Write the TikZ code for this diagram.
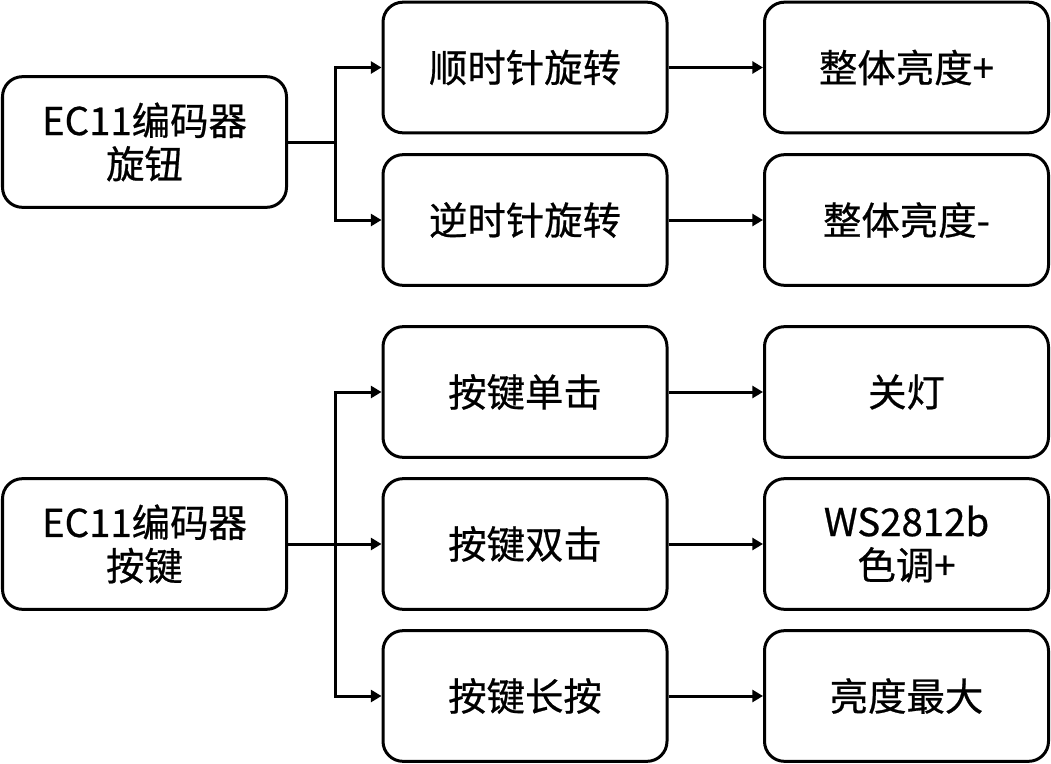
\documentclass[tikz,border=0pt]{standalone}
\usepackage{fontspec}
\setmainfont{Noto Sans CJK SC}[FakeBold=0.6]
\usetikzlibrary{arrows.meta}
\begin{document}
\begin{tikzpicture}[x=0.75pt,y=-0.75pt,
  box/.style={draw,line width=2.25pt,rounded corners=15pt,minimum width=213pt,minimum height=98pt,align=center,font=\fontsize{28.8}{32.5}\selectfont,inner sep=0pt},
  conn/.style={line width=2.25pt},
  arr/.style={conn,-{Triangle[length=8pt,width=9pt]}}]
\useasboundingbox (0,0) rectangle (1051,764);
\node[box] (a) at (144.5,142) {EC11编码器\\旋钮};
\node[box] (b) at (144.5,544) {EC11编码器\\按键};
\node[box] (m1) at (525,67.5) {顺时针旋转};
\node[box] (m2) at (525,220) {逆时针旋转};
\node[box] (m3) at (525,392) {按键单击};
\node[box] (m4) at (525,544) {按键双击};
\node[box] (m5) at (525,696) {按键长按};
\node[box] (r1) at (906.5,67.5) {整体亮度+};
\node[box] (r2) at (906.5,220) {整体亮度-};
\node[box] (r3) at (906.5,392) {关灯};
\node[box] (r4) at (906.5,544) {WS2812b\\色调+};
\node[box] (r5) at (906.5,696) {亮度最大};
\coordinate (ja) at (335,142);
\coordinate (jb) at (335,544);
\draw[conn] (a.east) -- (ja);
\draw[arr] (ja) |- (m1.west);
\draw[arr] (ja) |- (m2.west);
\draw[conn] (b.east) -- (jb);
\draw[arr] (jb) |- (m3.west);
\draw[arr] (jb) -- (m4.west);
\draw[arr] (jb) |- (m5.west);
\draw[arr] (m1) -- (r1);
\draw[arr] (m2) -- (r2);
\draw[arr] (m3) -- (r3);
\draw[arr] (m4) -- (r4);
\draw[arr] (m5) -- (r5);
\end{tikzpicture}
\end{document}
